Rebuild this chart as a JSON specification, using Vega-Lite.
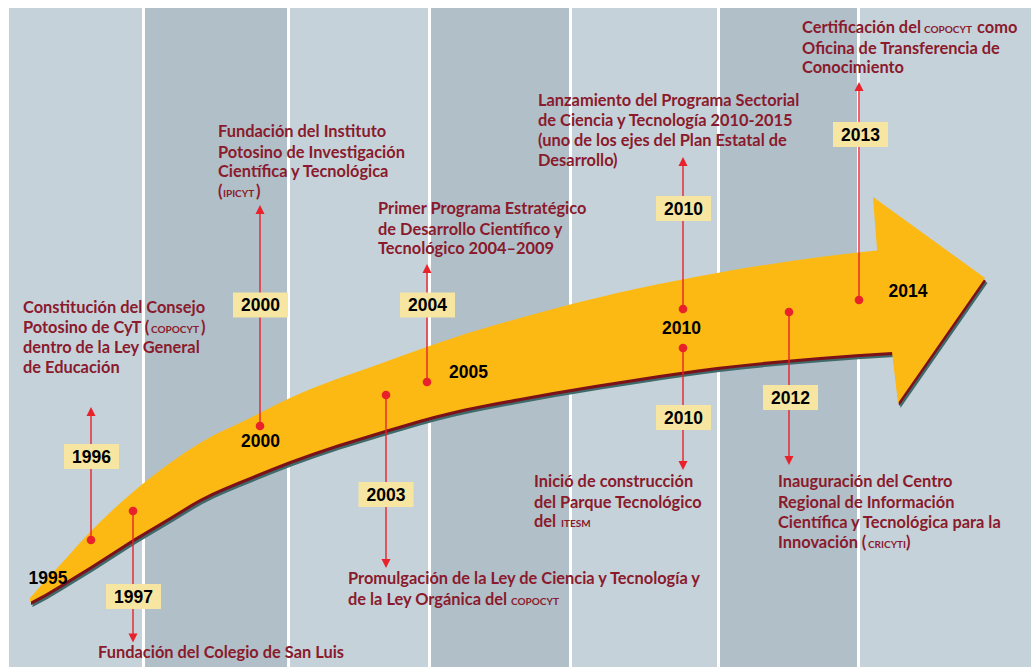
{
  "$schema": "https://vega.github.io/schema/vega-lite/v6.json",
  "width": 1031,
  "height": 667,
  "autosize": {"type": "fit", "contains": "padding"},
  "padding": 0,
  "background": "#ffffff",
  "config": {"view": {"stroke": null}},
  "datasets": {
    "stripes": [
      {"x": 9, "x2": 142, "tone": "light"},
      {"x": 145, "x2": 287, "tone": "dark"},
      {"x": 290, "x2": 428, "tone": "light"},
      {"x": 431, "x2": 569, "tone": "dark"},
      {"x": 572, "x2": 717, "tone": "light"},
      {"x": 720, "x2": 857, "tone": "dark"},
      {"x": 860, "x2": 1031, "tone": "light"}
    ],
    "shaft": [
      {"x": 30, "y": 598, "y2": 602},
      {"x": 45, "y": 581, "y2": 594},
      {"x": 60, "y": 565, "y2": 585},
      {"x": 91, "y": 531, "y2": 566},
      {"x": 133, "y": 492, "y2": 539},
      {"x": 170, "y": 463, "y2": 517},
      {"x": 200, "y": 443, "y2": 499},
      {"x": 250, "y": 418, "y2": 477},
      {"x": 290, "y": 398, "y2": 461},
      {"x": 385, "y": 362, "y2": 430},
      {"x": 450, "y": 339, "y2": 412},
      {"x": 520, "y": 318, "y2": 398},
      {"x": 553, "y": 309, "y2": 392},
      {"x": 640, "y": 288, "y2": 378},
      {"x": 717, "y": 273, "y2": 367},
      {"x": 820, "y": 257, "y2": 357},
      {"x": 892, "y": 249, "y2": 352}
    ],
    "head": [
      {"x": 873, "y": 197, "y2": 197.5},
      {"x": 878, "y": 200.6, "y2": 262},
      {"x": 892, "y": 210.8, "y2": 352},
      {"x": 898, "y": 215.1, "y2": 403},
      {"x": 985, "y": 278, "y2": 278}
    ],
    "events": [
      {"year": "1996", "x": 91, "y": 540, "yEnd": 414, "yTri": 411.5, "dir": "up"},
      {"year": "1997", "x": 133, "y": 511, "yEnd": 635, "yTri": 638, "dir": "down"},
      {"year": "2000", "x": 260, "y": 426, "yEnd": 212, "yTri": 209.5, "dir": "up"},
      {"year": "2003", "x": 386, "y": 395, "yEnd": 561, "yTri": 563.5, "dir": "down"},
      {"year": "2004", "x": 427, "y": 382, "yEnd": 271, "yTri": 268.5, "dir": "up"},
      {"year": "2010", "x": 683, "y": 309, "yEnd": 164, "yTri": 161.5, "dir": "up"},
      {"year": "2010", "x": 683, "y": 348, "yEnd": 463, "yTri": 465.5, "dir": "down"},
      {"year": "2012", "x": 789, "y": 312, "yEnd": 458, "yTri": 460.5, "dir": "down"},
      {"year": "2013", "x": 859, "y": 300, "yEnd": 89, "yTri": 86.5, "dir": "up"}
    ],
    "boxes": [
      {"label": "1996", "x": 91.5, "y": 456.5},
      {"label": "1997", "x": 133.5, "y": 596.5},
      {"label": "2000", "x": 260.5, "y": 305},
      {"label": "2003", "x": 386, "y": 494.5},
      {"label": "2004", "x": 427.5, "y": 305},
      {"label": "2010", "x": 683.5, "y": 208.5},
      {"label": "2010", "x": 683.5, "y": 417.5},
      {"label": "2012", "x": 790.5, "y": 397.5},
      {"label": "2013", "x": 860.5, "y": 134.5}
    ],
    "arrowLabels": [
      {"label": "1995", "x": 48, "y": 578},
      {"label": "2000", "x": 260.5, "y": 440.5},
      {"label": "2005", "x": 468.5, "y": 372},
      {"label": "2010", "x": 681.5, "y": 328},
      {"label": "2014", "x": 908, "y": 290.5}
    ],
    "texts": [
      {"x": 23, "y": 313, "t": "Constitución del Consejo"},
      {"x": 23, "y": 333, "t": "Potosino de CyT ("},
      {"x": 201, "y": 333, "t": ")"},
      {"x": 23, "y": 353, "t": "dentro de la Ley General"},
      {"x": 23, "y": 373, "t": "de Educación"},
      {"x": 98, "y": 658, "t": "Fundación del Colegio de San Luis"},
      {"x": 218, "y": 137, "t": "Fundación del Instituto"},
      {"x": 218, "y": 158, "t": "Potosino de Investigación"},
      {"x": 218, "y": 177, "t": "Científica y Tecnológica"},
      {"x": 218, "y": 197, "t": "("},
      {"x": 256, "y": 197, "t": ")"},
      {"x": 378, "y": 214, "t": "Primer Programa Estratégico"},
      {"x": 378, "y": 235, "t": "de Desarrollo Científico y"},
      {"x": 378, "y": 254, "t": "Tecnológico 2004–2009"},
      {"x": 348, "y": 584, "t": "Promulgación de la Ley de Ciencia y Tecnología y"},
      {"x": 348, "y": 605, "t": "de la Ley Orgánica del"},
      {"x": 538, "y": 106, "t": "Lanzamiento del Programa Sectorial"},
      {"x": 538, "y": 126, "t": "de Ciencia y Tecnología 2010-2015"},
      {"x": 538, "y": 146, "t": "(uno de los ejes del Plan Estatal de"},
      {"x": 538, "y": 166, "t": "Desarrollo)"},
      {"x": 534, "y": 487, "t": "Inició de construcción"},
      {"x": 534, "y": 508, "t": "del Parque Tecnológico"},
      {"x": 534, "y": 527, "t": "del"},
      {"x": 778, "y": 487, "t": "Inauguración del  Centro"},
      {"x": 778, "y": 508, "t": "Regional de Información"},
      {"x": 778, "y": 528, "t": "Científica y Tecnológica para la"},
      {"x": 778, "y": 548, "t": "Innovación ("},
      {"x": 906, "y": 548, "t": ")"},
      {"x": 802, "y": 33, "t": "Certificación del"},
      {"x": 977, "y": 33, "t": "como"},
      {"x": 802, "y": 54, "t": "Oficina de Transferencia de"},
      {"x": 802, "y": 73, "t": "Conocimiento"}
    ],
    "caps": [
      {"x": 151, "y": 333, "t": "COPOCYT"},
      {"x": 223, "y": 197, "t": "IPICYT"},
      {"x": 511, "y": 605, "t": "COPOCYT"},
      {"x": 561, "y": 527, "t": "ITESM"},
      {"x": 868, "y": 548, "t": "CRICYTI"},
      {"x": 924, "y": 33, "t": "COPOCYT"}
    ]
  },
  "layer": [
    {
      "data": {"name": "stripes"},
      "mark": {"type": "rect"},
      "encoding": {
        "x": {"field": "x", "type": "quantitative", "scale": {"domain": [0, 1031], "nice": false, "zero": false}, "axis": null},
        "x2": {"field": "x2"},
        "y": {"datum": 8, "type": "quantitative", "scale": {"domain": [0, 667], "nice": false, "zero": false, "reverse": true}, "axis": null},
        "y2": {"datum": 667},
        "color": {"field": "tone", "type": "nominal", "scale": {"domain": ["light", "dark"], "range": ["#C5D2DA", "#B1BFC8"]}, "legend": null}
      }
    },
    {
      "data": {"name": "shaft"},
      "mark": {"type": "area", "orient": "vertical", "interpolate": "monotone", "color": "#3F6A6C", "xOffset": 2.5, "yOffset": 5, "y2Offset": 5},
      "encoding": {
        "x": {"field": "x", "type": "quantitative", "axis": null},
        "y": {"field": "y", "type": "quantitative", "axis": null},
        "y2": {"field": "y2"}
      }
    },
    {
      "data": {"name": "shaft"},
      "mark": {"type": "area", "orient": "vertical", "interpolate": "monotone", "color": "#7C1219", "xOffset": 1, "yOffset": 3, "y2Offset": 3},
      "encoding": {
        "x": {"field": "x", "type": "quantitative", "axis": null},
        "y": {"field": "y", "type": "quantitative", "axis": null},
        "y2": {"field": "y2"}
      }
    },
    {
      "data": {"name": "head"},
      "mark": {"type": "area", "orient": "vertical", "interpolate": "linear", "color": "#3F6A6C", "xOffset": 2.5, "yOffset": 5, "y2Offset": 5},
      "encoding": {
        "x": {"field": "x", "type": "quantitative", "axis": null},
        "y": {"field": "y", "type": "quantitative", "axis": null},
        "y2": {"field": "y2"}
      }
    },
    {
      "data": {"name": "head"},
      "mark": {"type": "area", "orient": "vertical", "interpolate": "linear", "color": "#7C1219", "xOffset": 1, "yOffset": 3, "y2Offset": 3},
      "encoding": {
        "x": {"field": "x", "type": "quantitative", "axis": null},
        "y": {"field": "y", "type": "quantitative", "axis": null},
        "y2": {"field": "y2"}
      }
    },
    {
      "data": {"name": "shaft"},
      "mark": {"type": "area", "orient": "vertical", "interpolate": "monotone", "color": "#FDB913"},
      "encoding": {
        "x": {"field": "x", "type": "quantitative", "axis": null},
        "y": {"field": "y", "type": "quantitative", "axis": null},
        "y2": {"field": "y2"}
      }
    },
    {
      "data": {"name": "head"},
      "mark": {"type": "area", "orient": "vertical", "interpolate": "linear", "color": "#FDB913"},
      "encoding": {
        "x": {"field": "x", "type": "quantitative", "axis": null},
        "y": {"field": "y", "type": "quantitative", "axis": null},
        "y2": {"field": "y2"}
      }
    },
    {
      "data": {"name": "events"},
      "mark": {"type": "rule", "color": "#E8212B", "strokeWidth": 1.4},
      "encoding": {
        "x": {"field": "x", "type": "quantitative", "axis": null},
        "y": {"field": "y", "type": "quantitative", "axis": null},
        "y2": {"field": "yEnd"}
      }
    },
    {
      "data": {"name": "events"},
      "mark": {"type": "point", "filled": true, "color": "#E8212B", "size": 81, "opacity": 1},
      "encoding": {
        "x": {"field": "x", "type": "quantitative", "axis": null},
        "y": {"field": "yTri", "type": "quantitative", "axis": null},
        "shape": {"field": "dir", "type": "nominal", "scale": {"domain": ["up", "down"], "range": ["M0,-1L1,1L-1,1Z", "M0,1L1,-1L-1,-1Z"]}, "legend": null}
      }
    },
    {
      "data": {"name": "events"},
      "mark": {"type": "circle", "color": "#E8212B", "size": 75, "opacity": 1},
      "encoding": {
        "x": {"field": "x", "type": "quantitative", "axis": null},
        "y": {"field": "y", "type": "quantitative", "axis": null}
      }
    },
    {
      "data": {"name": "boxes"},
      "mark": {"type": "point", "filled": true, "color": "#F6E6A2", "opacity": 1, "size": 3025, "shape": "M-1,-0.4545H1V0.4545H-1Z"},
      "encoding": {
        "x": {"field": "x", "type": "quantitative", "axis": null},
        "y": {"field": "y", "type": "quantitative", "axis": null}
      }
    },
    {
      "data": {"name": "boxes"},
      "mark": {"type": "text", "font": "Liberation Sans", "fontWeight": "bold", "fontSize": 17.5, "color": "#000000", "align": "center", "baseline": "middle", "dy": 1},
      "encoding": {
        "x": {"field": "x", "type": "quantitative", "axis": null},
        "y": {"field": "y", "type": "quantitative", "axis": null},
        "text": {"field": "label"}
      }
    },
    {
      "data": {"name": "arrowLabels"},
      "mark": {"type": "text", "font": "Liberation Sans", "fontWeight": "bold", "fontSize": 17.5, "color": "#000000", "align": "center", "baseline": "middle", "dy": 1},
      "encoding": {
        "x": {"field": "x", "type": "quantitative", "axis": null},
        "y": {"field": "y", "type": "quantitative", "axis": null},
        "text": {"field": "label"}
      }
    },
    {
      "data": {"name": "texts"},
      "mark": {"type": "text", "font": "Lato", "fontWeight": "bold", "fontSize": 16.4, "color": "#8A1A2C", "align": "left", "baseline": "alphabetic"},
      "encoding": {
        "x": {"field": "x", "type": "quantitative", "axis": null},
        "y": {"field": "y", "type": "quantitative", "axis": null},
        "text": {"field": "t"}
      }
    },
    {
      "data": {"name": "caps"},
      "mark": {"type": "text", "font": "Lato", "fontWeight": "bold", "fontSize": 10, "color": "#8A1A2C", "align": "left", "baseline": "alphabetic"},
      "encoding": {
        "x": {"field": "x", "type": "quantitative", "axis": null},
        "y": {"field": "y", "type": "quantitative", "axis": null},
        "text": {"field": "t"}
      }
    }
  ]
}
